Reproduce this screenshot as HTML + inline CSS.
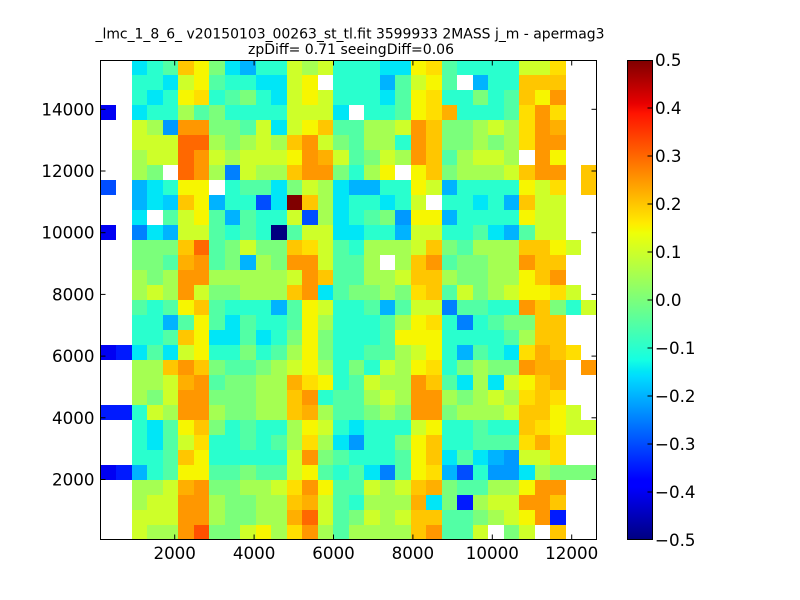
<!DOCTYPE html>
<html><head><meta charset="utf-8">
<style>
html,body{margin:0;padding:0;background:#fff;}
svg{display:block;}
text{font-family:"DejaVu Sans","Liberation Sans",sans-serif;fill:#000;}
</style></head>
<body>
<svg id="s" width="800" height="600" xmlns="http://www.w3.org/2000/svg">
<defs>
<linearGradient id="jet" x1="0" y1="1" x2="0" y2="0">
<stop offset="0" stop-color="#000080"/>
<stop offset="0.11" stop-color="#0000ff"/>
<stop offset="0.125" stop-color="#0000ff"/>
<stop offset="0.34" stop-color="#00dbff"/>
<stop offset="0.35" stop-color="#00e5f7"/>
<stop offset="0.375" stop-color="#15ffe2"/>
<stop offset="0.64" stop-color="#eeff08"/>
<stop offset="0.65" stop-color="#f7f500"/>
<stop offset="0.66" stop-color="#ffec00"/>
<stop offset="0.89" stop-color="#ff1300"/>
<stop offset="0.91" stop-color="#e80000"/>
<stop offset="1" stop-color="#800000"/>
</linearGradient>
</defs>
<rect width="800" height="600" fill="#fff"/>
<g id="cells" shape-rendering="crispEdges"></g>
<rect x="100.5" y="60.5" width="496" height="479" fill="none" stroke="#000" stroke-width="1"/>
<g stroke="#000" stroke-width="1">
<line x1="174.7" y1="540" x2="174.7" y2="534.5"/><line x1="174.7" y1="60" x2="174.7" y2="65.5"/>
<line x1="254.1" y1="540" x2="254.1" y2="534.5"/><line x1="254.1" y1="60" x2="254.1" y2="65.5"/>
<line x1="333.5" y1="540" x2="333.5" y2="534.5"/><line x1="333.5" y1="60" x2="333.5" y2="65.5"/>
<line x1="412.9" y1="540" x2="412.9" y2="534.5"/><line x1="412.9" y1="60" x2="412.9" y2="65.5"/>
<line x1="492.3" y1="540" x2="492.3" y2="534.5"/><line x1="492.3" y1="60" x2="492.3" y2="65.5"/>
<line x1="571.7" y1="540" x2="571.7" y2="534.5"/><line x1="571.7" y1="60" x2="571.7" y2="65.5"/>
<line x1="100" y1="479.5" x2="105.5" y2="479.5"/><line x1="597" y1="479.5" x2="591.5" y2="479.5"/>
<line x1="100" y1="417.8" x2="105.5" y2="417.8"/><line x1="597" y1="417.8" x2="591.5" y2="417.8"/>
<line x1="100" y1="356.1" x2="105.5" y2="356.1"/><line x1="597" y1="356.1" x2="591.5" y2="356.1"/>
<line x1="100" y1="294.4" x2="105.5" y2="294.4"/><line x1="597" y1="294.4" x2="591.5" y2="294.4"/>
<line x1="100" y1="232.7" x2="105.5" y2="232.7"/><line x1="597" y1="232.7" x2="591.5" y2="232.7"/>
<line x1="100" y1="171" x2="105.5" y2="171"/><line x1="597" y1="171" x2="591.5" y2="171"/>
<line x1="100" y1="109.3" x2="105.5" y2="109.3"/><line x1="597" y1="109.3" x2="591.5" y2="109.3"/>
</g>
<g font-size="16.7" text-anchor="middle">
<text x="174.7" y="559">2000</text>
<text x="254.1" y="559">4000</text>
<text x="333.5" y="559">6000</text>
<text x="412.9" y="559">8000</text>
<text x="492.3" y="559">10000</text>
<text x="571.7" y="559">12000</text>
</g>
<g font-size="16.7" text-anchor="end">
<text x="94.5" y="485.5">2000</text>
<text x="94.5" y="423.8">4000</text>
<text x="94.5" y="362.1">6000</text>
<text x="94.5" y="300.4">8000</text>
<text x="94.5" y="238.7">10000</text>
<text x="94.5" y="177">12000</text>
<text x="94.5" y="115.3">14000</text>
</g>
<text x="350" y="38.5" font-size="13.9" text-anchor="middle" textLength="509" lengthAdjust="spacingAndGlyphs">_lmc_1_8_6_ v20150103_00263_st_tl.fit 3599933 2MASS j_m - apermag3</text>
<text x="351" y="54" font-size="13.9" text-anchor="middle" textLength="206" lengthAdjust="spacingAndGlyphs">zpDiff= 0.71 seeingDiff=0.06</text>
<rect x="627.5" y="60.5" width="25" height="479" fill="url(#jet)" stroke="#000" stroke-width="1"/>
<g stroke="#000" stroke-width="1">
<line x1="652" y1="108" x2="647.5" y2="108"/>
<line x1="652" y1="156" x2="647.5" y2="156"/>
<line x1="652" y1="204" x2="647.5" y2="204"/>
<line x1="652" y1="252" x2="647.5" y2="252"/>
<line x1="652" y1="300" x2="647.5" y2="300"/>
<line x1="652" y1="348" x2="647.5" y2="348"/>
<line x1="652" y1="396" x2="647.5" y2="396"/>
<line x1="652" y1="444" x2="647.5" y2="444"/>
<line x1="652" y1="492" x2="647.5" y2="492"/>
</g>
<g font-size="16.7">
<text x="655" y="66">0.5</text>
<text x="655" y="114">0.4</text>
<text x="655" y="162">0.3</text>
<text x="655" y="210">0.2</text>
<text x="655" y="258">0.1</text>
<text x="655" y="306">0.0</text>
<text x="655" y="354">−0.1</text>
<text x="655" y="402">−0.2</text>
<text x="655" y="450">−0.3</text>
<text x="655" y="498">−0.4</text>
<text x="655" y="546">−0.5</text>
</g>
</svg>
<script>
(function(){
var R=[
"..hijonkhgiimlmiiihhnNjiiiimmN..",
"..iihmnjiihhmn.iiigjmnj.giiooo..",
"..ihinNijkihmnmiiihjnNiikijonp..",
"c.hiiljkiiiimmmh.iijnNOiiijNpN..",
"..mlFppkkjmhmnojjllmpokklmlNpO..",
"..mmmqqlklmlopmkjllipokklklNpp..",
"..lmmqpmlmmmnpOmjkmlpojlmml.pn..",
"..lk.qplfmlloppkiln.noklllmopp.o",
"e.ghinn.ijjhkmlhggiinmgiiiinmN.o",
"..ghGongiiehuolhiihim.iihigomm..",
"..h.jmnjgjiimelhijkFnngiiiinmm..",
"c.fhgmmjijiajmmhhiigmmiijhgjmm..",
"..kkkoqjkmkkoNmjilllmokjllloonm.",
"..kkjOpjkglkppmjjl.lopjkkllpoo..",
"..lklpplllllmpojjllmoolkkllnop..",
"..lmlpmkklllophjkklkNojmklmnnNm.",
"..jijnojiiigjnmiijgjmmfjjiipokim",
"..iigjnjhjiijnliiijlnNifijkkoo..",
"..iijonhhjhiknkiiijnnniiiijloo..",
"cdhjhmniikijlnkiijjlmnigjihNOoN.",
"..llopokjjklmnlikimlnNiklkkpOO.p",
"..llmOpjkkllONnijmllpojhlhmnoO..",
"..lkmppkkkllopijjlmlpplklmlNoN..",
"ddimlpplkklloOljjklkppklllmoonm.",
"..ihjnokijiilnmihiiimniijiioNnmm",
"..ihjmNiijijlNlhFiiknoiijjjNON..",
"..iijoniiiiimpkjiiijnohjhgFmmN..",
"cdgijnnjjkjjmnjijhfjnNgeiFFhlkkk",
"..llmOpkkllmNpnjjmlmoOkjjllnpp..",
"..lmmpplkklloOmjilllOhkdlmmppo..",
"..mmmpplkkllOqmjkmlmoojjklmnpd..",
"..mllpQkkmnlNpljllllopjjm.km.o.."
];
function seg(t,p){for(var i=0;i<p.length-1;i++){if(t<=p[i+1][0]){return p[i][1]+(t-p[i][0])/(p[i+1][0]-p[i][0])*(p[i+1][1]-p[i][1]);}}return p[p.length-1][1];}
var PR=[[0,0],[0.35,0],[0.66,1],[0.89,1],[1,0.5]];
var PG=[[0,0],[0.125,0],[0.375,1],[0.64,1],[0.91,0],[1,0]];
var PB=[[0,0.5],[0.11,1],[0.34,1],[0.65,0],[1,0]];
function jet(v){var t=v+0.5;if(t<0)t=0;if(t>1)t=1;
var r=Math.round(255*seg(t,PR)),g=Math.round(255*seg(t,PG)),b=Math.round(255*seg(t,PB));
return "rgb("+r+","+g+","+b+")";}
function val(ch){var c=ch.charCodeAt(0);
if(c>=97&&c<=122)return (c-97)*0.05-0.5;
if(c>=65&&c<=90)return (c-65)*0.05-0.5+0.025;return null;}
var x0=100.5,x1=597,y0=60,ch=15,n=32,cw=(x1-x0)/n;
var s="";
for(var r=0;r<R.length;r++){var row=R[r];
for(var c=0;c<row.length;c++){var v=val(row[c]);if(v===null)continue;
var xa=x0+c*cw,xb=x0+(c+1)*cw,ya=y0+r*ch,yb=y0+(r+1)*ch;
xa=Math.round(xa);xb=Math.round(xb);
s+='<rect x="'+xa+'" y="'+ya+'" width="'+(xb-xa)+'" height="'+(yb-ya)+'" fill="'+jet(v)+'"/>';}}
document.getElementById("cells").innerHTML=s;
})();
</script>
</body></html>
